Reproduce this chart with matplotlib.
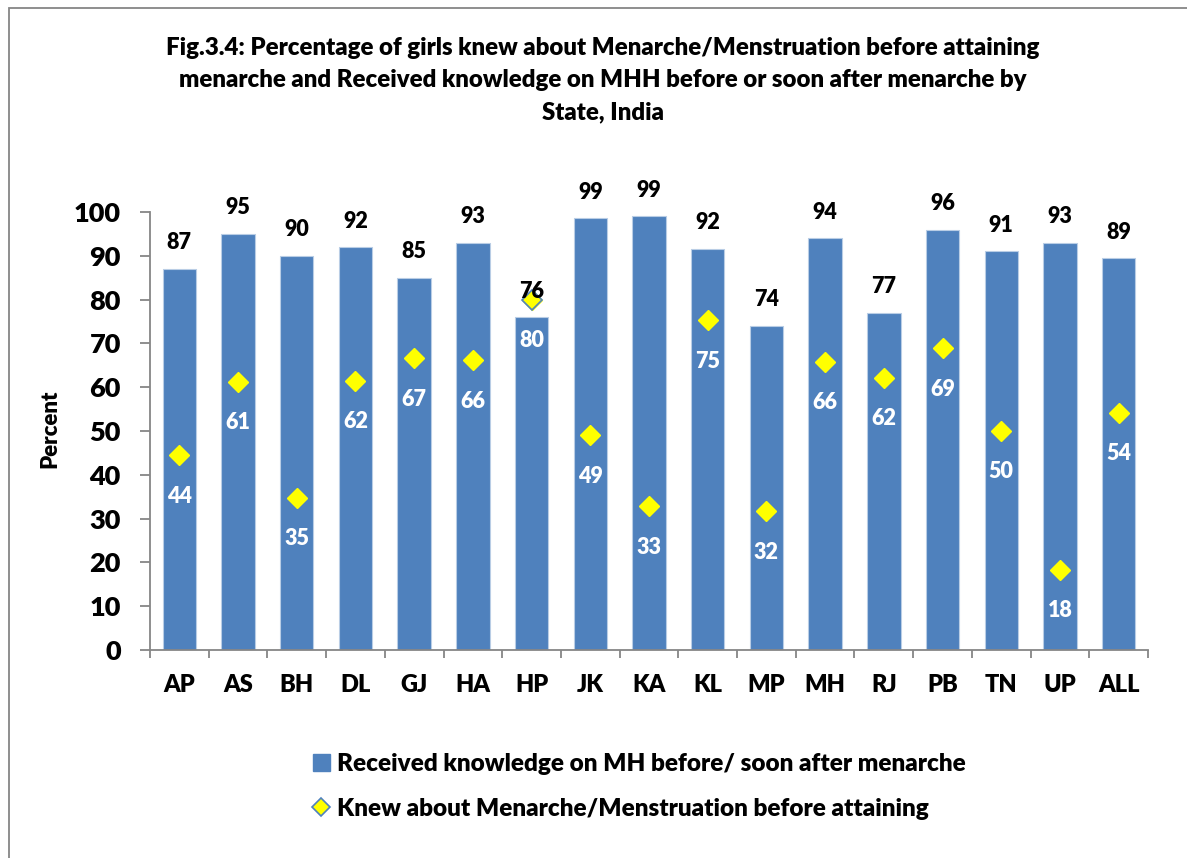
import numpy as np
import matplotlib
matplotlib.use("Agg")
import matplotlib.pyplot as plt
from matplotlib.patches import Rectangle
from matplotlib.lines import Line2D
from matplotlib.patches import Patch

plt.rcParams['font.family'] = ['Lato', 'DejaVu Sans']
plt.rcParams['font.weight'] = 'heavy'
WT = 'heavy'

# States
states = ["AP", "AS", "BH", "DL", "GJ", "HA", "HP", "JK", "KA", "KL",
          "MP", "MH", "RJ", "PB", "TN", "UP", "ALL"]

# Received knowledge on MH before/ soon after menarche
received = [87, 95, 90, 92, 85, 93, 76, 98.6, 99, 91.6,
            74, 94, 77, 96, 91, 93, 89.4]
received_lbl = [87, 95, 90, 92, 85, 93, 76, 99, 99, 92,
                74, 94, 77, 96, 91, 93, 89]

# Knew about Menarche/Menstruation before attaining
knew = [44.5, 61.3, 34.8, 61.5, 66.6, 66.2, 80, 49, 32.8, 75.3,
        31.7, 65.8, 62.2, 68.9, 50.1, 18.3, 54.2]
knew_lbl = [44, 61, 35, 62, 67, 66, 80, 49, 33, 75,
            32, 66, 62, 69, 50, 18, 54]

W, H = 1187, 858
fig = plt.figure(figsize=(W / 100, H / 100), dpi=100)
ax = fig.add_axes([150 / W, (H - 650) / H, 998 / W, 438 / H])

x = np.arange(len(states))
bar_col = '#4F81BD'
ax.bar(x, received, width=0.57, color=bar_col, edgecolor='#B9CDE5', linewidth=0.8, zorder=2)
ax.plot(x, knew, linestyle='none', marker='D', markersize=10,
        markerfacecolor='#FFFF00', markeredgecolor='#FFFF00', zorder=3)
# HP marker has a blue outline in the original
ax.plot(x[6], knew[6], linestyle='none', marker='D', markersize=10,
        markerfacecolor='#FFFF00', markeredgecolor=bar_col, markeredgewidth=1.2, zorder=3)

for i in range(len(states)):
    ax.annotate(str(received_lbl[i]), (x[i], received[i]), xytext=(0, 26),
                textcoords='offset pixels', ha='center', va='center',
                fontsize=15.5, fontweight=WT, color='black', zorder=4)
    ax.annotate(str(knew_lbl[i]), (x[i], knew[i]), xytext=(0, -41),
                textcoords='offset pixels', ha='center', va='center',
                fontsize=15.5, fontweight=WT, color='white', zorder=4)

ax.set_xlim(-0.5, len(states) - 0.5)
ax.set_ylim(0, 100)
ax.set_yticks(np.arange(0, 101, 10))
ax.set_xticks(x)
ax.set_xticklabels(states)
ax.set_xticks(np.arange(-0.5, len(states)), minor=True)

grey = '#868686'
for s in ['top', 'right']:
    ax.spines[s].set_visible(False)
for s in ['left', 'bottom']:
    ax.spines[s].set_color(grey)
    ax.spines[s].set_linewidth(1.3)

ax.tick_params(axis='y', direction='out', length=7, width=1.3, color=grey,
               pad=14, labelsize=19.5)
ax.tick_params(axis='x', which='major', length=0, pad=17, labelsize=17)
ax.tick_params(axis='x', which='minor', direction='out', length=6, width=1.3, color=grey)
for lbl in ax.get_xticklabels() + ax.get_yticklabels():
    lbl.set_fontweight(WT)

ax.set_ylabel("Percent", fontsize=16, fontweight=WT)
ax.yaxis.set_label_coords(-0.09, 0.505)

fig.text(603 / W, 1 - 80 / H,
         "Fig.3.4: Percentage of girls knew about Menarche/Menstruation before attaining\n"
         "menarche and Received knowledge on MHH before or soon after menarche by\n"
         "State, India",
         ha='center', va='center', fontsize=17.3, fontweight=WT, linespacing=1.55)

handles = [Patch(facecolor=bar_col, edgecolor=bar_col),
           Line2D([], [], linestyle='none', marker='D', markersize=9,
                  markerfacecolor='#FFFF00', markeredgecolor=bar_col, markeredgewidth=1.2)]
labels = ["Received knowledge on MH before/ soon after menarche",
          "Knew about Menarche/Menstruation before attaining"]
fig.legend(handles, labels, loc='upper left', bbox_to_anchor=(291 / W, 1 - 731 / H),
           frameon=False, prop={'size': 17.5, 'weight': WT},
           handlelength=0.7, handleheight=0.7, handletextpad=0.3, labelspacing=0.95)

fig.patches.append(Rectangle((9 / W, -0.1), 1.2, 1.1 - 8 / H, transform=fig.transFigure,
                             fill=False, edgecolor=grey, linewidth=1.3))

fig.savefig("out.png", dpi=100)
